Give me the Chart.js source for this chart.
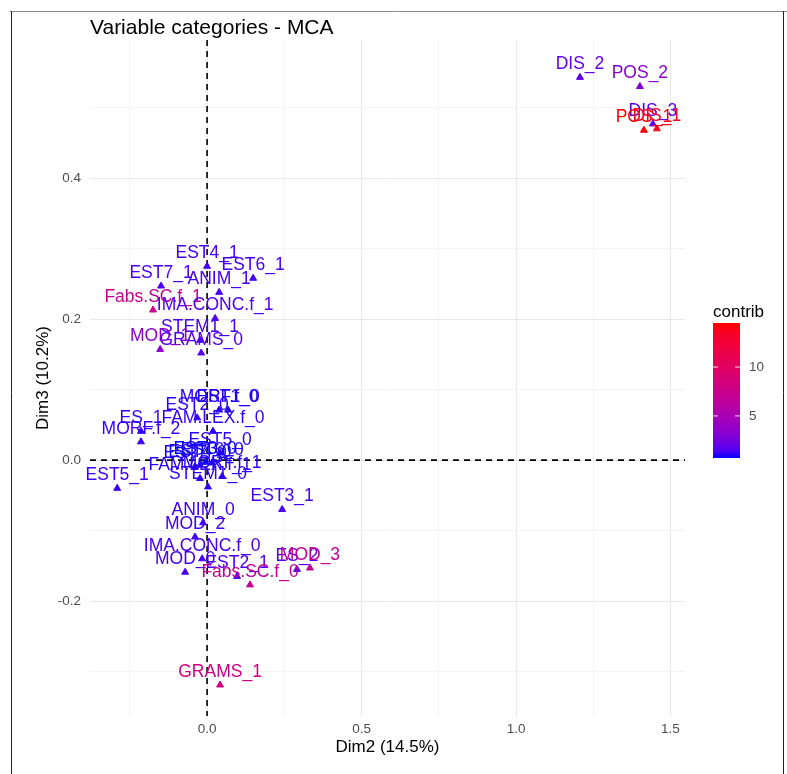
<!DOCTYPE html>
<html>
<head>
<meta charset="utf-8">
<script src="https://cdn.jsdelivr.net/npm/chart.js@4/dist/chart.umd.min.js"></script>
<style>
  html, body { margin: 0; padding: 0; background: #ffffff; }
  #wrap { width: 787px; height: 774px; position: relative; }
</style>
</head>
<body>
<div id="wrap"><canvas id="c" width="787" height="774"></canvas></div>
<script>
// MCA variable categories on dimensions 2 and 3, coloured by contribution
const categories = [
  'DIS_2', 'POS_2', 'DIS_3', 'POS_1', 'DIS_1',
  'EST4_1', 'EST6_1', 'EST7_1', 'ANIM_1', 'Fabs.SC.f_1', 'IMA.CONC.f_1',
  'STEM1_1', 'MOD_1', 'GRAMS_0',
  'MORF.f_0', 'EST1_0', 'EST2_0', 'FAM.LEX.f_0', 'ES_1', 'MORF.f_2',
  'EST5_0', 'EST3_0', 'EST4_0', 'EST6_0', 'EST7_0', 'MORF.f_1', 'FAM.LEX.f_1', 'STEM1_0',
  'EST5_1', 'EST3_1', 'ANIM_0', 'MOD_2', 'IMA.CONC.f_0', 'MOD_0', 'EST2_1',
  'ES_2', 'MOD_3', 'Fabs.SC.f_0', 'GRAMS_1'
];
const dim2 = [
  1.207, 1.401, 1.443, 1.414, 1.456,
  0.000, 0.149, -0.149, 0.039, -0.175, 0.026,
  -0.023, -0.152, -0.019,
  0.039, 0.068, -0.032, 0.019, -0.214, -0.214,
  0.042, -0.006, -0.023, 0.016, -0.039, 0.049, -0.023, 0.003,
  -0.291, 0.243, -0.013, -0.039, -0.016, -0.071, 0.097,
  0.291, 0.333, 0.139, 0.042
];
const dim3 = [
  0.543, 0.530, 0.477, 0.468, 0.470,
  0.275, 0.258, 0.247, 0.238, 0.213, 0.201,
  0.170, 0.157, 0.152,
  0.071, 0.071, 0.060, 0.041, 0.041, 0.026,
  0.010, -0.003, -0.007, -0.004, -0.009, -0.023, -0.026, -0.038,
  -0.040, -0.070, -0.089, -0.109, -0.140, -0.159, -0.165,
  -0.155, -0.153, -0.177, -0.319
];
const contrib = [
  1.8, 3.2, 1.7, 14.5, 13.6,
  1.3, 1.3, 1.4, 1.3, 7.5, 1.5,
  1.3, 3.5, 1.6,
  0.9, 0.8, 1.0, 1.0, 1.0, 1.1,
  0.9, 0.7, 0.8, 0.8, 0.8, 0.9, 0.9, 1.0,
  1.2, 1.3, 1.2, 1.2, 1.3, 1.3, 1.4,
  1.6, 7.0, 7.0, 8.0
];

const xGridValues = [-0.25, 0, 0.25, 0.5, 0.75, 1, 1.25, 1.5];
const xTickLabels = { '0': '0.0', '0.5': '0.5', '1': '1.0', '1.5': '1.5' };
const yGridValues = [-0.3, -0.2, -0.1, 0, 0.1, 0.2, 0.3, 0.4, 0.5];
const yTickLabels = { '-0.2': '-0.2', '0': '0.0', '0.2': '0.2', '0.4': '0.4' };
const legendTicks = [5, 10];

const FONT = "'Liberation Sans', Arial, Helvetica, sans-serif";

// blue -> red gradient interpolated in CIELAB
function srgbToLab(rgb) {
  const f = c => { c /= 255; return c <= 0.04045 ? c / 12.92 : Math.pow((c + 0.055) / 1.055, 2.4); };
  const R = f(rgb[0]), G = f(rgb[1]), B = f(rgb[2]);
  const X = (R * 0.4124 + G * 0.3576 + B * 0.1805) / 0.95047;
  const Y = (R * 0.2126 + G * 0.7152 + B * 0.0722);
  const Z = (R * 0.0193 + G * 0.1192 + B * 0.9505) / 1.08883;
  const h = t => t > 0.008856 ? Math.cbrt(t) : (7.787 * t + 16 / 116);
  return [116 * h(Y) - 16, 500 * (h(X) - h(Y)), 200 * (h(Y) - h(Z))];
}
function labToRgb(lab) {
  let Y = (lab[0] + 16) / 116, X = lab[1] / 500 + Y, Z = Y - lab[2] / 200;
  const hi = t => { const t3 = t * t * t; return t3 > 0.008856 ? t3 : (t - 16 / 116) / 7.787; };
  X = hi(X) * 0.95047; Y = hi(Y); Z = hi(Z) * 1.08883;
  const R = X * 3.2406 + Y * -1.5372 + Z * -0.4986;
  const G = X * -0.9689 + Y * 1.8758 + Z * 0.0415;
  const B = X * 0.0557 + Y * -0.2040 + Z * 1.0570;
  const g = c => { c = c <= 0.0031308 ? 12.92 * c : 1.055 * Math.pow(c, 1 / 2.4) - 0.055; return Math.round(Math.max(0, Math.min(1, c)) * 255); };
  return 'rgb(' + g(R) + ',' + g(G) + ',' + g(B) + ')';
}
const LOW = srgbToLab([0, 0, 255]);
const HIGH = srgbToLab([255, 0, 0]);
const cMin = Math.min(...contrib);
const cMax = Math.max(...contrib);
function contribColor(v) {
  const t = Math.max(0, Math.min(1, (v - cMin) / (cMax - cMin)));
  return labToRgb([0, 1, 2].map(i => LOW[i] + (HIGH[i] - LOW[i]) * t));
}
const pointColors = contrib.map(contribColor);

const points = categories.map((name, i) => ({ x: dim2[i], y: dim3[i], name: name }));

// dashed reference lines through the origin
const originLines = {
  id: 'originLines',
  beforeDatasetsDraw(chart) {
    const { ctx, chartArea: a, scales: { x, y } } = chart;
    const x0 = x.getPixelForValue(0), y0 = y.getPixelForValue(0);
    ctx.save();
    ctx.strokeStyle = '#000000';
    ctx.lineWidth = 1.6;
    ctx.setLineDash([6, 5]);
    ctx.beginPath();
    ctx.moveTo(x0, a.top); ctx.lineTo(x0, a.bottom);
    ctx.moveTo(a.left, y0); ctx.lineTo(a.right, y0);
    ctx.stroke();
    ctx.restore();
  }
};

// category names above each point
const pointLabels = {
  id: 'pointLabels',
  afterDatasetsDraw(chart) {
    const { ctx } = chart;
    const meta = chart.getDatasetMeta(0);
    ctx.save();
    ctx.font = '17.5px ' + FONT;
    ctx.textAlign = 'center';
    ctx.textBaseline = 'middle';
    meta.data.forEach((el, i) => {
      ctx.fillStyle = pointColors[i];
      ctx.fillText(categories[i], el.x, el.y - 13);
    });
    ctx.restore();
  }
};

// title, colour bar legend and outer frame
const decorations = {
  id: 'decorations',
  afterDraw(chart) {
    const { ctx } = chart;
    ctx.save();
    ctx.fillStyle = '#000000';
    ctx.font = '21px ' + FONT;
    ctx.textAlign = 'left';
    ctx.textBaseline = 'middle';
    ctx.fillText('Variable categories - MCA', 90, 28);

    const bx = 713, bw = 27, bTop = 323, bBot = 458;
    const grad = ctx.createLinearGradient(0, bBot, 0, bTop);
    for (let k = 0; k <= 20; k++) grad.addColorStop(k / 20, contribColor(cMin + (cMax - cMin) * k / 20));
    ctx.fillStyle = grad;
    ctx.fillRect(bx, bTop, bw, bBot - bTop);

    ctx.font = '17px ' + FONT;
    ctx.fillStyle = '#000000';
    ctx.textBaseline = 'middle';
    ctx.fillText('contrib', bx, 312);

    ctx.font = '13.5px ' + FONT;
    ctx.fillStyle = '#4d4d4d';
    ctx.strokeStyle = 'rgba(255,255,255,0.85)';
    ctx.lineWidth = 1;
    legendTicks.forEach(v => {
      const py = bBot - (v - cMin) / (cMax - cMin) * (bBot - bTop);
      ctx.beginPath();
      ctx.moveTo(bx, py); ctx.lineTo(bx + 5, py);
      ctx.moveTo(bx + bw - 5, py); ctx.lineTo(bx + bw, py);
      ctx.stroke();
      ctx.fillText(String(v), bx + bw + 9, py);
    });

    ctx.strokeStyle = '#8a8a8a';
    ctx.lineWidth = 1;
    ctx.beginPath();
    ctx.moveTo(10, 11.5); ctx.lineTo(787, 11.5);
    ctx.stroke();
    ctx.strokeStyle = '#222222';
    ctx.beginPath();
    ctx.moveTo(11.5, 11); ctx.lineTo(11.5, 774);
    ctx.moveTo(783.5, 11); ctx.lineTo(783.5, 774);
    ctx.stroke();
    ctx.restore();
  }
};

const gridColor = major => ctx => (ctx.tick && major(ctx.tick.value)) ? '#e8e8e8' : '#f4f4f4';

new Chart(document.getElementById('c'), {
  type: 'scatter',
  data: {
    datasets: [{
      data: points,
      pointStyle: 'triangle',
      pointRadius: 4,
      pointHoverRadius: 4,
      pointBorderWidth: 1,
      pointBackgroundColor: pointColors,
      pointBorderColor: pointColors
    }]
  },
  options: {
    responsive: false,
    animation: false,
    devicePixelRatio: 1,
    layout: { padding: { left: 0, top: 40, right: 102, bottom: 0 } },
    plugins: { legend: { display: false }, tooltip: { enabled: false }, title: { display: false } },
    scales: {
      x: {
        type: 'linear',
        min: -0.379,
        max: 1.547,
        afterBuildTicks: s => { s.ticks = xGridValues.map(v => ({ value: v })); },
        afterFit: s => { s.height = 58; },
        border: { display: false },
        grid: { drawTicks: false, lineWidth: 1, color: gridColor(v => Math.abs(v * 2 - Math.round(v * 2)) < 1e-9) },
        ticks: {
          autoSkip: false, maxRotation: 0, padding: 5,
          color: '#4d4d4d', font: { family: FONT, size: 13.5 },
          callback: v => xTickLabels[String(v)] || ''
        },
        title: { display: true, text: 'Dim2 (14.5%)', color: '#000000', font: { family: FONT, size: 17 }, padding: { top: 0, bottom: 16 } }
      },
      y: {
        type: 'linear',
        min: -0.363,
        max: 0.596,
        afterBuildTicks: s => { s.ticks = yGridValues.map(v => ({ value: v })); },
        afterFit: s => { s.width = 90; },
        border: { display: false },
        grid: { drawTicks: false, lineWidth: 1, color: gridColor(v => Math.abs(v * 5 - Math.round(v * 5)) < 1e-9) },
        ticks: {
          autoSkip: false, padding: 9,
          color: '#4d4d4d', font: { family: FONT, size: 13.5 },
          callback: v => yTickLabels[String(Math.round(v * 10) / 10)] || ''
        },
        title: { display: true, text: 'Dim3 (10.2%)', color: '#000000', font: { family: FONT, size: 17 }, padding: { top: 33, bottom: 0 } }
      }
    }
  },
  plugins: [originLines, pointLabels, decorations]
});
</script>
</body>
</html>
